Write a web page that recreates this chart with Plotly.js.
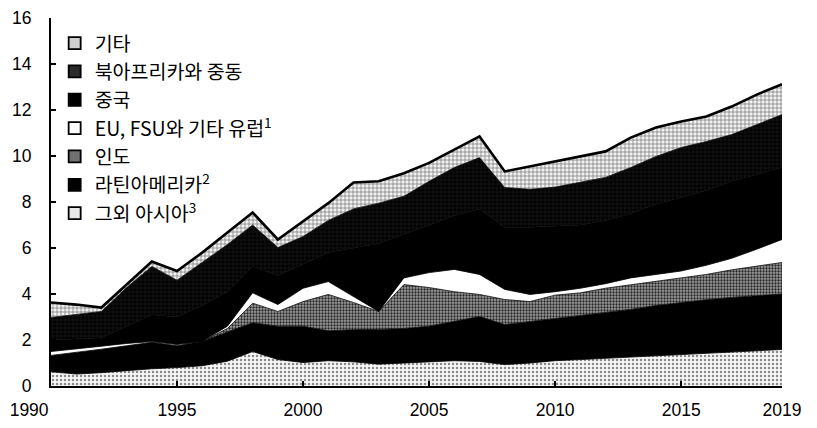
<!DOCTYPE html>
<html>
<head>
<meta charset="utf-8">
<script src="https://cdn.plot.ly/plotly-3.0.1.min.js"></script>
<style>html,body{margin:0;padding:0;background:#fff;}#chart{width:817px;height:428px;}</style>
</head>
<body>
<div id="chart"></div>
<script>
var years = [1990,1991,1992,1993,1994,1995,1996,1997,1998,1999,2000,2001,2002,2003,2004,2005,2006,2007,2008,2009,2010,2011,2012,2013,2014,2015,2016,2017,2018,2019];

var otherAsia = [0.62,0.52,0.58,0.68,0.75,0.80,0.88,1.08,1.50,1.15,1.02,1.10,1.05,0.95,1.00,1.05,1.10,1.07,0.93,1.00,1.10,1.15,1.20,1.28,1.32,1.38,1.43,1.48,1.53,1.59];
var latinAmerica = [0.71,0.93,1.02,1.07,1.15,0.95,1.07,1.27,1.25,1.45,1.58,1.30,1.40,1.51,1.50,1.55,1.70,1.95,1.74,1.80,1.85,1.90,2.00,2.05,2.18,2.25,2.32,2.37,2.40,2.41];
var india = [0,0,0,0,0,0,0,0.15,0.85,0.64,1.07,1.58,1.18,0.78,1.91,1.68,1.30,0.96,1.09,0.87,1.00,1.00,1.05,1.07,1.05,1.07,1.10,1.20,1.27,1.37];
var europe = [0.17,0.15,0.13,0.10,0.03,0.05,0,0.10,0.45,0.30,0.58,0.56,0.27,0,0.29,0.65,0.97,0.87,0.44,0.31,0.15,0.20,0.20,0.30,0.30,0.30,0.40,0.50,0.75,1.00];
var china = [0.50,0.45,0.37,0.75,1.17,1.20,1.55,1.50,1.15,1.26,1.05,1.26,2.10,2.96,1.90,2.07,2.33,2.85,2.70,2.92,2.85,2.75,2.75,2.80,3.05,3.20,3.25,3.35,3.25,3.13];
var menaValues = [0.98,1.05,1.14,1.68,2.10,1.60,1.87,2.05,1.80,1.22,1.20,1.40,1.70,1.75,1.65,1.90,2.10,2.23,1.73,1.65,1.70,1.85,1.87,2.00,2.08,2.17,2.13,2.03,2.17,2.30];
var others = [0.65,0.44,0.17,0.13,0.21,0.40,0.43,0.52,0.54,0.35,0.65,0.75,1.15,0.95,1.00,0.80,0.78,0.92,0.70,0.99,1.10,1.13,1.13,1.30,1.26,1.13,1.09,1.22,1.30,1.32];

var seriesNames = ['그외 아시아<sup>3</sup>','라틴아메리카<sup>2</sup>','인도','EU, FSU와 기타 유럽<sup>1</sup>','중국','북아프리카와 중동','기타'];
var tickVals = [1990,1995,2000,2005,2010,2015,2019];
var tickLabels = ['1990','1995','2000','2005','2010','2015','2019'];

var seriesData = [otherAsia, latinAmerica, india, europe, china, menaValues, others];
var fills = [
  {fillcolor:'#f4f4f4', fillpattern:{shape:'.', bgcolor:'#f7f7f7', fgcolor:'#8a8a8a', size:4, solidity:0.3}},
  {fillcolor:'#000000'},
  {fillcolor:'#8c8c8c', fillpattern:{shape:'.', bgcolor:'#9c9c9c', fgcolor:'#262626', size:3, solidity:0.45}},
  {fillcolor:'#ffffff'},
  {fillcolor:'#000000'},
  {fillcolor:'#080808', fillpattern:{shape:'+', bgcolor:'#020202', fgcolor:'#444444', size:4, solidity:0.1}},
  {fillcolor:'#dcdcdc', fillpattern:{shape:'+', bgcolor:'#f2f2f2', fgcolor:'#6a6a6a', size:4, solidity:0.3}}
];
var legendColors = ['#e8e8e8','#000000','#707070','#ffffff','#000000','#2a2a2a','#cfcfcf'];

var traces = [];
for (var i = 0; i < seriesData.length; i++) {
  var t = {
    type:'scatter', x: years, y: seriesData[i], stackgroup:'one', mode:'lines',
    line:{color:'#000', width: i === seriesData.length-1 ? 2.6 : 0.8, shape:'linear'},
    fillcolor: fills[i].fillcolor, showlegend:false, hoverinfo:'skip'
  };
  if (fills[i].fillpattern) t.fillpattern = fills[i].fillpattern;
  traces.push(t);
}
for (var j = seriesData.length-1; j >= 0; j--) {
  traces.push({
    type:'scatter', x:[null], y:[null], mode:'markers', name: seriesNames[j],
    marker:{symbol:'square', size:12, color: legendColors[j], line:{color:'#000', width:1.8}},
    showlegend:true
  });
}

var xTickText = tickLabels.map(function(s, k){ return k === 0 ? s + '\u00A0\u00A0\u00A0\u00A0\u00A0\u00A0\u00A0\u00A0\u00A0' : s; });

var layout = {
  width:817, height:428,
  margin:{l:51, r:35, t:18, b:42},
  paper_bgcolor:'#fff', plot_bgcolor:'#fff',
  showlegend:true,
  legend:{x:0.005, y:0.984, xanchor:'left', yanchor:'top', bgcolor:'rgba(0,0,0,0)',
          font:{family:'Noto Sans CJK KR, sans-serif', size:19.5, color:'#000'}, traceorder:'normal', itemwidth:30},
  xaxis:{range:[1990,2019], tickvals:tickVals, ticktext:xTickText, showgrid:false, zeroline:false,
         showline:true, linecolor:'#000', linewidth:2, ticks:'inside', ticklen:5, tickwidth:2, tickcolor:'#000',
         tickfont:{family:'Liberation Sans, Arial, sans-serif', size:17.5, color:'#000'}, ticklabelstandoff:7, fixedrange:true},
  yaxis:{range:[0,16], dtick:2, tick0:0, showgrid:false, zeroline:false,
         showline:true, linecolor:'#000', linewidth:2, ticks:'inside', ticklen:5, tickwidth:2, tickcolor:'#000',
         tickfont:{family:'Liberation Sans, Arial, sans-serif', size:17.5, color:'#000'}, ticklabelstandoff:14, fixedrange:true}
};

Plotly.newPlot('chart', traces, layout, {staticPlot:true, displayModeBar:false});
</script>
</body>
</html>
